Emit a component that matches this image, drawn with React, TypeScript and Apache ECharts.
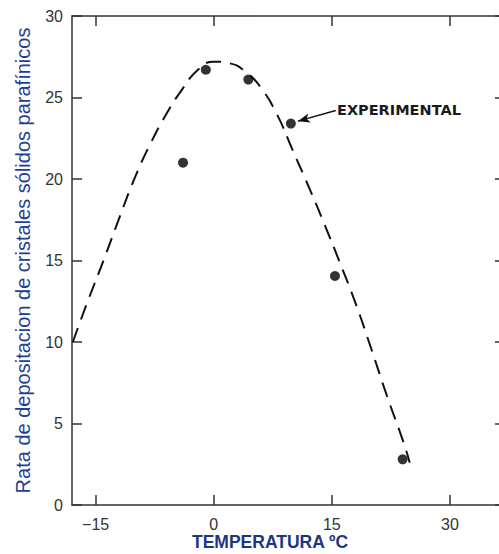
import React, { useEffect, useRef } from "react";
import * as echarts from "echarts";

// Measured points (temperature °C, deposition rate)
const expTemps = [-3.9, -1.0, 4.4, 9.8, 15.4, 24.0];
const expRates = [21.0, 26.7, 26.1, 23.4, 14.05, 2.8];

// Dashed fitted curve
const curveTemps = [-17.9, -16, -14, -12, -10, -8, -6, -4, -2, 0, 2, 4, 6, 8, 10, 12, 14, 16, 18, 20, 22, 24, 24.9];
const curveRates = [10.0, 12.5, 15.0, 17.6, 20.1, 22.2, 24.0, 25.5, 26.7, 27.2, 27.1, 26.6, 25.6, 24.0, 21.8, 19.6, 17.3, 14.9, 12.4, 9.6, 6.7, 4.0, 2.6];

const xTicks = [-15, 0, 15, 30];

// Annotation arrow (data coords): from label to the pointed experimental point
const arrowFrom = [15.5, 24.2];
const arrowTo = [10.7, 23.55];

const xName = "TEMPERATURA ºC";
const yName = "Rata de depositacion de cristales sólidos parafínicos";
const annotation = "EXPERIMENTAL";

const fmt = (v: number) => (v < 0 ? "\u2212" + Math.abs(v) : String(v));

export default function App() {
  const ref = useRef<HTMLDivElement>(null);
  useEffect(() => {
    if (!ref.current) return;
    const chart = echarts.init(ref.current, undefined, { renderer: "svg" });
    const axisLine = { show: true, onZero: false, lineStyle: { color: "#333", width: 1.5 } };
    const tickStyle = { color: "#333", width: 1.5 };
    const labelStyle = { color: "#333", fontSize: 16, fontFamily: "Liberation Sans, Arial, sans-serif" };
    chart.setOption({
      animation: false,
      backgroundColor: "#fff",
      grid: { left: 72, top: 16, width: 433, height: 489, containLabel: false, outerBoundsMode: "none" },
      xAxis: [
        {
          type: "value",
          min: -18,
          max: 37,
          position: "bottom",
          axisLine,
          axisTick: { inside: true, length: 10, customValues: xTicks, lineStyle: tickStyle },
          axisLabel: { customValues: xTicks, formatter: fmt, margin: 11, ...labelStyle },
          splitLine: { show: false },
        },
        {
          type: "value",
          min: -18,
          max: 37,
          position: "top",
          axisLine,
          axisTick: { inside: true, length: 10, customValues: xTicks, lineStyle: tickStyle },
          axisLabel: { show: false },
          splitLine: { show: false },
        },
      ],
      yAxis: [
        {
          type: "value",
          min: 0,
          max: 30,
          interval: 5,
          position: "left",
          axisLine,
          axisTick: { inside: true, length: 10, lineStyle: tickStyle },
          axisLabel: { margin: 9, ...labelStyle },
          splitLine: { show: false },
          name: yName,
          nameLocation: "middle",
          nameGap: 39,
          nameTextStyle: {
            fontSize: 20,
            color: "#1f3f95",
            fontFamily: "Liberation Sans, Arial, sans-serif",
          },
        },
        {
          type: "value",
          min: 0,
          max: 30,
          interval: 5,
          position: "right",
          axisLine,
          axisTick: { inside: true, length: 10, lineStyle: tickStyle },
          axisLabel: { show: false },
          splitLine: { show: false },
        },
      ],
      series: [
        {
          type: "line",
          xAxisIndex: 0,
          yAxisIndex: 0,
          data: curveTemps.map((t, i) => [t, curveRates[i]]),
          smooth: 0.5,
          showSymbol: false,
          symbol: "none",
          lineStyle: { color: "#111", width: 2, type: [15, 9] },
          silent: true,
          z: 2,
        },
        {
          type: "scatter",
          xAxisIndex: 0,
          yAxisIndex: 0,
          data: expTemps.map((t, i) => [t, expRates[i]]),
          symbol: "circle",
          symbolSize: 10,
          itemStyle: { color: "#000" },
          z: 3,
          markLine: {
            silent: true,
            symbol: ["none", "arrow"],
            symbolSize: [7, 12],
            label: { show: false },
            lineStyle: { color: "#111", width: 1.5, type: "solid" },
            data: [[{ coord: arrowFrom }, { coord: arrowTo }]],
          },
        },
      ],
      graphic: [
        {
          type: "text",
          left: 337,
          top: 102,
          style: {
            text: annotation,
            fontSize: 14.5,
            fontWeight: "bold",
            fontFamily: "DejaVu Sans, sans-serif",
            fill: "#1a1a1a",
          },
        },
        {
          type: "text",
          x: 270,
          y: 542,
          style: {
            text: xName,
            align: "center",
            verticalAlign: "middle",
            fontSize: 17.5,
            fontWeight: "bold",
            fontFamily: "Liberation Sans, Arial, sans-serif",
            fill: "#1d3585",
          },
        },
      ],
    });
    return () => chart.dispose();
  }, []);
  return (
    <div
      ref={ref}
      style={{ position: "fixed", left: 0, top: 0, width: 499, height: 554, background: "#fff" }}
    />
  );
}
